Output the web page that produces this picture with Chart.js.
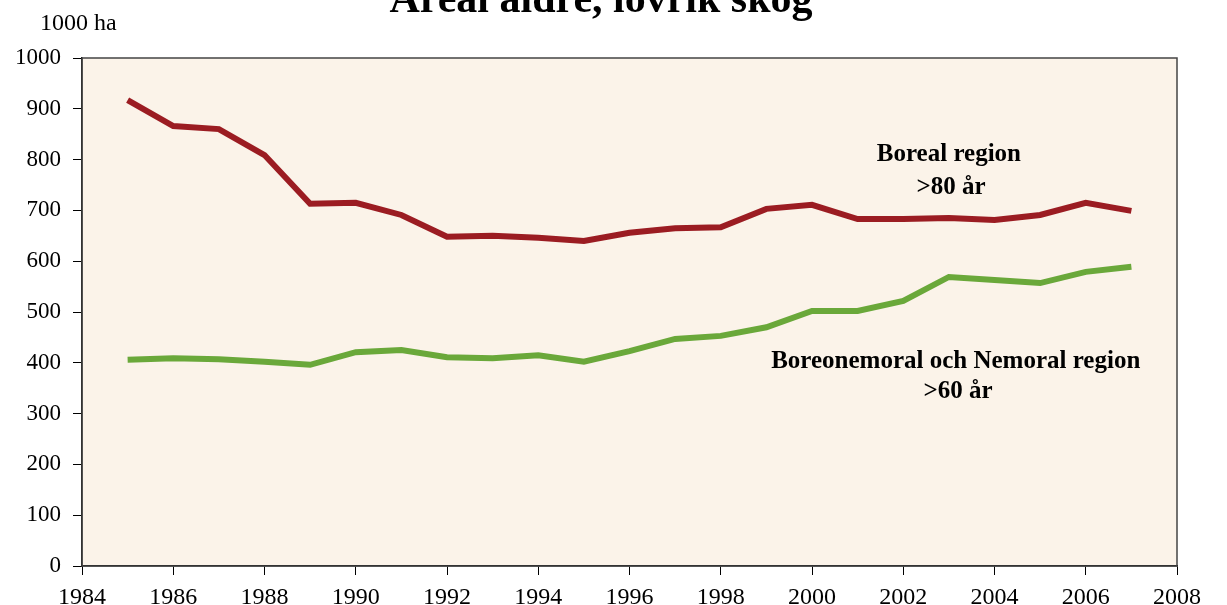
<!DOCTYPE html>
<html>
<head>
<meta charset="utf-8">
<script src="https://cdn.jsdelivr.net/npm/chart.js@4/dist/chart.umd.min.js"></script>
<style>
  html, body { margin: 0; padding: 0; background: #fff; }
  #wrap { width: 1227px; height: 605px; }
</style>
</head>
<body>
<div id="wrap"><canvas id="chart"></canvas></div>
<script>
const years = [1985, 1986, 1987, 1988, 1989, 1990, 1991, 1992, 1993, 1994, 1995, 1996,
  1997, 1998, 1999, 2000, 2001, 2002, 2003, 2004, 2005, 2006, 2007];
const boreal = [917, 866, 860, 809, 713, 715, 691, 648, 650, 646, 640, 656,
  665, 667, 703, 711, 683, 683, 685, 681, 691, 715, 699];
const nemoral = [406, 409, 407, 402, 396, 421, 425, 411, 409, 415, 402, 423,
  447, 453, 470, 502, 502, 522, 569, 563, 557, 579, 589];
const seriesNames = ['Boreal region >80 år', 'Boreonemoral och Nemoral region >60 år'];
const titleText = 'Areal äldre, lövrik skog';
const unitText = '1000 ha';

const serif = '"Liberation Serif", "DejaVu Serif", serif';

// beige plot background, frame, title and in-chart labels
const decor = {
  id: 'decor',
  beforeDraw(chart){
    const {ctx, chartArea: a} = chart;
    ctx.save();
    ctx.fillStyle = '#fbf3e9';
    ctx.fillRect(a.left, a.top, a.right - a.left, a.bottom - a.top);
    ctx.restore();
  },
  afterDraw(chart){
    const {ctx, chartArea: a, scales} = chart;
    ctx.save();
    ctx.strokeStyle = '#444';
    ctx.lineWidth = 1.5;
    ctx.strokeRect(a.left, a.top, a.right - a.left, a.bottom - a.top);

    ctx.fillStyle = '#000';
    ctx.textAlign = 'center';
    ctx.textBaseline = 'alphabetic';
    ctx.font = 'bold 42px ' + serif;
    ctx.fillText(titleText, 601, 12);

    ctx.textAlign = 'left';
    ctx.font = '24px ' + serif;
    ctx.fillText(unitText, 40, 30);

    ctx.textAlign = 'center';
    ctx.textBaseline = 'middle';
    ctx.font = 'bold 25px ' + serif;
    const x = scales.x;
    ctx.fillText('Boreal region', x.getPixelForValue(2003.0), 155);
    ctx.fillText('>80 år', x.getPixelForValue(2003.05), 188);
    ctx.fillText('Boreonemoral och Nemoral region', x.getPixelForValue(2003.15), 362);
    ctx.fillText('>60 år', x.getPixelForValue(2003.2), 392);
    ctx.restore();
  }
};

new Chart(document.getElementById('chart'), {
  type: 'line',
  data: {
    datasets: [
      {
        label: seriesNames[0],
        data: years.map((yr, i) => ({x: yr, y: boreal[i]})),
        borderColor: '#9b1c22',
        borderWidth: 6,
        pointRadius: 0,
        tension: 0
      },
      {
        label: seriesNames[1],
        data: years.map((yr, i) => ({x: yr, y: nemoral[i]})),
        borderColor: '#6aa83a',
        borderWidth: 6,
        pointRadius: 0,
        tension: 0
      }
    ]
  },
  options: {
    responsive: true,
    maintainAspectRatio: false,
    animation: false,
    layout: { padding: { top: 58, right: 50, left: 0, bottom: 0 } },
    plugins: {
      legend: { display: false },
      tooltip: { enabled: false }
    },
    scales: {
      x: {
        type: 'linear',
        min: 1984,
        max: 2008,
        ticks: {
          stepSize: 2,
          color: '#000',
          font: { family: serif, size: 24 },
          padding: 8,
          maxRotation: 0,
          callback: v => String(v)
        },
        grid: { drawOnChartArea: false, tickLength: 9, color: '#000' },
        border: { color: '#000', width: 1.5 },
        afterFit(s){ s.height = 39; }
      },
      y: {
        min: 0,
        max: 1000,
        ticks: {
          stepSize: 100,
          color: '#000',
          font: { family: serif, size: 23 },
          padding: 12,
          callback: v => String(v)
        },
        grid: { drawOnChartArea: false, tickLength: 9, color: '#000' },
        border: { color: '#000', width: 1.5 },
        afterFit(s){ s.width = 82; }
      }
    }
  },
  plugins: [decor]
});
</script>
</body>
</html>
